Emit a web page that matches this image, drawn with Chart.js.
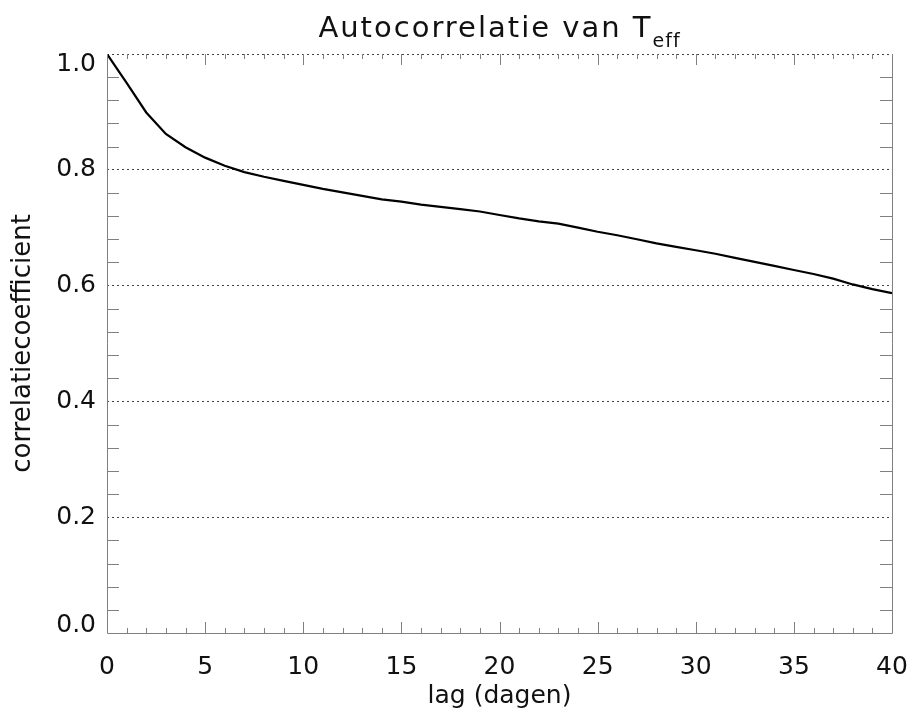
<!DOCTYPE html>
<html>
<head>
<meta charset="utf-8">
<title>Autocorrelatie van Teff</title>
<script src="https://cdn.jsdelivr.net/npm/chart.js@4.4.1/dist/chart.umd.min.js"></script>
<style>
  html, body { margin: 0; padding: 0; background: #fff; }
  #wrap { width: 913px; height: 716px; }
</style>
</head>
<body>
<div id="wrap"><canvas id="chart" width="913" height="716"></canvas></div>
<script>
// lag in dagen en de bijbehorende autocorrelatie
const lags = [0, 1, 2, 3, 4, 5, 6, 7, 8, 9, 10,
              11, 12, 13, 14, 15, 16, 17, 18, 19, 20,
              21, 22, 23, 24, 25, 26, 27, 28, 29, 30,
              31, 32, 33, 34, 35, 36, 37, 38, 39, 40];
const autocorr = [1.000, 0.950, 0.899, 0.862, 0.839, 0.821, 0.807, 0.796, 0.788, 0.781, 0.774,
                  0.767, 0.761, 0.755, 0.749, 0.745, 0.740, 0.736, 0.732, 0.728, 0.722,
                  0.716, 0.711, 0.707, 0.700, 0.693, 0.687, 0.680, 0.673, 0.667, 0.661,
                  0.655, 0.648, 0.641, 0.634, 0.627, 0.620, 0.612, 0.602, 0.594, 0.587];
const xTickLabels = [0, 5, 10, 15, 20, 25, 30, 35, 40];
const yTickLabels = ["0.0", "0.2", "0.4", "0.6", "0.8", "1.0"];

const FONT = "'DejaVu Sans', sans-serif";
const AXIS_COLOR = "#808080";

// kader, kleine en grote streepjes naar binnen, y-labels en titel
const framePlugin = {
  id: "frame",
  afterDraw(chart) {
    const ctx = chart.ctx;
    const { left, right, top, bottom } = chart.chartArea;
    const x = chart.scales.x;
    const y = chart.scales.y;
    ctx.save();
    ctx.strokeStyle = AXIS_COLOR;
    ctx.lineWidth = 1;
    ctx.beginPath();
    ctx.moveTo(left + 0.5, top);
    ctx.lineTo(left + 0.5, bottom + 0.5);
    ctx.lineTo(right + 0.5, bottom + 0.5);
    ctx.lineTo(right + 0.5, top);
    ctx.stroke();

    // x-streepjes onder en boven
    ctx.beginPath();
    for (let v = x.min + 1; v < x.max; v++) {
      const px = Math.round(x.getPixelForValue(v)) + 0.5;
      const len = v % 5 === 0 ? 11 : 5;
      ctx.moveTo(px, bottom);
      ctx.lineTo(px, bottom - len);
      ctx.moveTo(px, top);
      ctx.lineTo(px, top + len);
    }
    // y-streepjes links en rechts, tussen de stippellijnen
    for (let i = 1; i < 25; i++) {
      if (i % 5 === 0) continue;
      const py = Math.round(y.getPixelForValue(i * 0.04)) + 0.5;
      ctx.moveTo(left, py);
      ctx.lineTo(left + 12, py);
      ctx.moveTo(right, py);
      ctx.lineTo(right - 12, py);
    }
    ctx.stroke();

    // y-labels, aan de uiteinden naar binnen geschoven
    ctx.fillStyle = "#111";
    ctx.font = "25px " + FONT;
    ctx.textAlign = "right";
    ctx.textBaseline = "middle";
    yTickLabels.forEach(lbl => {
      let py = y.getPixelForValue(parseFloat(lbl));
      py = Math.min(Math.max(py, top + 10), bottom - 8);
      ctx.fillText(lbl, left - 11, py);
    });

    // titel met subscript
    const main = "Autocorrelatie van T";
    const sub = "eff";
    ctx.textAlign = "left";
    ctx.textBaseline = "alphabetic";
    ctx.font = "29px " + FONT;
    ctx.letterSpacing = "2px";
    const wMain = ctx.measureText(main).width;
    ctx.font = "19px " + FONT;
    ctx.letterSpacing = "1px";
    const wSub = ctx.measureText(sub).width;
    const x0 = (left + right) / 2 - (wMain + wSub) / 2;
    ctx.font = "29px " + FONT;
    ctx.letterSpacing = "2px";
    ctx.fillText(main, x0, 37);
    ctx.font = "19px " + FONT;
    ctx.letterSpacing = "1px";
    ctx.fillText(sub, x0 + wMain, 47);
    ctx.restore();
  }
};

const chart = document.querySelector("#chart").getContext("2d");

new Chart(chart, {
  type: "line",
  data: {
    labels: lags,
    datasets: [{
      label: "autocorrelatie",
      data: lags.map((l, i) => ({ x: l, y: autocorr[i] })),
      borderColor: "#000",
      borderWidth: 2.2,
      pointRadius: 0,
      tension: 0,
      fill: false
    }]
  },
  options: {
    responsive: false,
    animation: false,
    layout: { padding: { top: 54, right: 21, left: 0, bottom: 0 } },
    plugins: {
      legend: { display: false },
      tooltip: { enabled: false },
      title: { display: false }
    },
    scales: {
      x: {
        type: "linear",
        min: 0,
        max: 40,
        afterFit: s => { s.height = 83; s.paddingLeft = 0; s.paddingRight = 0; },
        afterBuildTicks: s => { s.ticks = xTickLabels.map(v => ({ value: v })); },
        grid: { display: false, drawTicks: false },
        border: { display: false },
        ticks: {
          padding: 19,
          maxRotation: 0,
          autoSkip: false,
          color: "#111",
          font: { family: FONT, size: 25 }
        },
        title: {
          display: true,
          text: "lag (dagen)",
          color: "#111",
          font: { family: FONT, size: 25 },
          padding: { top: 0, bottom: 5 }
        }
      },
      y: {
        min: 0,
        max: 1,
        afterFit: s => { s.width = 107; s.paddingTop = 0; s.paddingBottom = 0; },
        ticks: { display: false, stepSize: 0.2 },
        grid: {
          drawTicks: false,
          color: ctx => ctx.tick && ctx.tick.value > 0.01 ? "#444" : "rgba(0,0,0,0)",
          lineWidth: 1
        },
        border: { display: false, dash: [2, 3] },
        title: {
          display: true,
          text: "correlatiecoefficient",
          color: "#111",
          font: { family: FONT, size: 26 },
          padding: { top: 8, bottom: 0 }
        }
      }
    }
  },
  plugins: [framePlugin]
});
</script>
</body>
</html>
